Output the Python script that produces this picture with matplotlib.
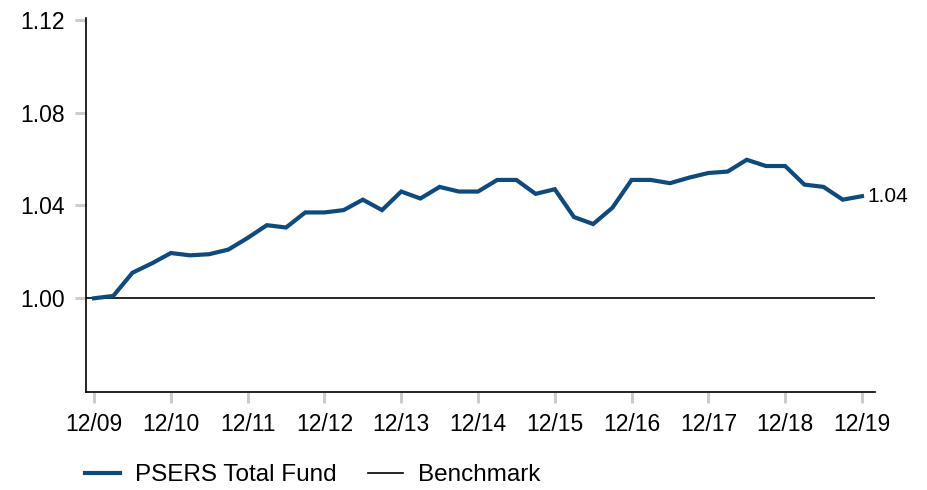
import numpy as np
import matplotlib
matplotlib.use('Agg')
import matplotlib.pyplot as plt

plt.rcParams['font.family'] = ['Liberation Sans', 'DejaVu Sans']

# quarterly growth of a dollar, 12/09 .. 12/19
fund = [1.000, 1.001, 1.011, 1.015, 1.0195, 1.0185, 1.019, 1.021,
        1.026, 1.0315, 1.0305, 1.037, 1.037, 1.038, 1.0425, 1.038,
        1.046, 1.043, 1.048, 1.046, 1.046, 1.051, 1.051, 1.045,
        1.047, 1.035, 1.032, 1.039, 1.051, 1.051, 1.0496, 1.052,
        1.054, 1.0546, 1.0597, 1.057, 1.057, 1.049, 1.048, 1.0425,
        1.044]
benchmark = 1.00
year_labels = ['12/09', '12/10', '12/11', '12/12', '12/13', '12/14',
               '12/15', '12/16', '12/17', '12/18', '12/19']
y_ticks = [1.00, 1.04, 1.08, 1.12]

blue = '#0e4a7b'
tick_grey = '#c9cdd1'

fig = plt.figure(figsize=(9.28, 4.9), dpi=100)
ax = fig.add_axes([86/928, 1 - 392/490, (875 - 86)/928, (392 - 18)/490])

q = np.arange(len(fund))
ax.axhline(benchmark, color='black', lw=1.2, label='Benchmark', zorder=2)
ax.plot(q, fund, color=blue, lw=3, solid_joinstyle='miter',
        label='PSERS Total Fund', zorder=3)

ax.annotate('%.2f' % fund[-1], xy=(q[-1], fund[-1]), xytext=(4, 0),
            textcoords='offset points', va='center', ha='left', fontsize=15)

ax.set_xlim(-0.42, 40.68)
ax.set_ylim(0.9596, 1.1208)
ax.set_xticks(q[::4])
ax.set_xticklabels(year_labels)
ax.set_yticks(y_ticks)
ax.set_yticklabels(['%.2f' % v for v in y_ticks])

for s in ['top', 'right']:
    ax.spines[s].set_visible(False)
for s in ['left', 'bottom']:
    ax.spines[s].set_color('black')
    ax.spines[s].set_linewidth(1.2)

ax.tick_params(axis='both', direction='out', length=8, width=2.2,
               color=tick_grey, labelsize=16.5)
ax.tick_params(axis='x', pad=7)
ax.tick_params(axis='y', pad=7)

# legend order: fund first
h, l = ax.get_legend_handles_labels()
fig.legend(h[::-1], l[::-1], loc='center left',
           bbox_to_anchor=(85/928, 15/490), ncol=2, frameon=False,
           fontsize=17.5, handlelength=1.45, handletextpad=0.6,
           columnspacing=1.3, borderpad=0, borderaxespad=0)

fig.savefig('out.png', dpi=100)
